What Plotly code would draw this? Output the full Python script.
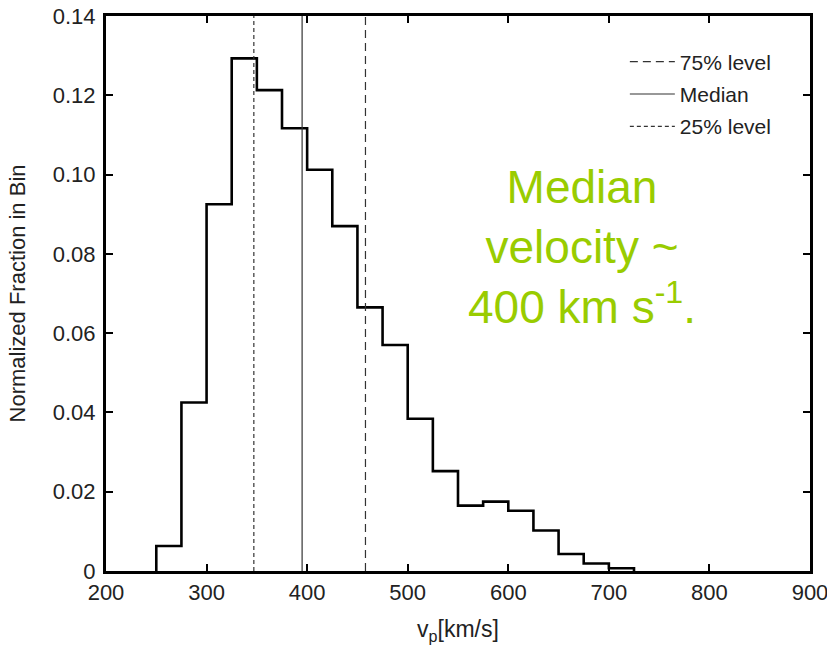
import plotly.graph_objects as go

# Histogram bins (left edges, width 25 km/s) and normalized fractions
bin_left = [250, 275, 300, 325, 350, 375, 400, 425, 450, 475,
            500, 525, 550, 575, 600, 625, 650, 675, 700]
bin_width = 25
fractions = [0.0063, 0.0425, 0.0925, 0.1293, 0.1213, 0.1117, 0.1012, 0.0870, 0.0665, 0.0570,
             0.0384, 0.0252, 0.0165, 0.0175, 0.0152, 0.0102, 0.0043, 0.0019, 0.0007]

# Quartile markers
level_names = ["75% level", "Median", "25% level"]
level_values = [458, 395, 347]
level_dash = ["8px,5px", "solid", "4px,3px"]

x_ticks = [200, 300, 400, 500, 600, 700, 800, 900]
y_ticks = [0, 0.02, 0.04, 0.06, 0.08, 0.10, 0.12, 0.14]
y_tick_text = ["0", "0.02", "0.04", "0.06", "0.08", "0.10", "0.12", "0.14"]

fig = go.Figure()

xs = [bin_left[0]] + bin_left + [bin_left[-1] + bin_width]
ys = [0] + fractions + [0]
fig.add_trace(go.Scatter(x=xs, y=ys, mode="lines", line=dict(shape="hv", color="black", width=2.6),
                         showlegend=False, hoverinfo="skip"))

for i, (name, v, d) in enumerate(zip(level_names, level_values, level_dash)):
    fig.add_trace(go.Scatter(x=[v, v], y=[0, 0.14], mode="lines", name=name, legendgroup=f"g{i}",
                             line=dict(color="#333333", width=1.2, dash=d)))

fig.add_annotation(x=673, y=0.0817, xref="x", yref="y", showarrow=False,
                   text="Median<br>velocity ~<br>400 km s<sup>-1</sup>.",
                   font=dict(family="Arial", size=46, color="#99CC00"),
                   xanchor="center", yanchor="middle", align="center")

axis_common = dict(showline=True, linecolor="black", linewidth=3, mirror="ticks",
                   ticks="inside", ticklen=7, tickwidth=2, tickcolor="black",
                   showgrid=False, zeroline=False, automargin=False,
                   ticklabeloverflow="allow",
                   tickfont=dict(family="Arial", size=22, color="#222222"))

fig.update_xaxes(range=[200, 900], tickvals=x_ticks, ticklabelstandoff=0, **axis_common,
                 title=dict(text="v<sub>p</sub>[km/s]", font=dict(family="Arial", size=23, color="#222222"),
                            standoff=17))
fig.update_yaxes(range=[0, 0.14], tickvals=y_ticks, ticktext=y_tick_text, ticklabelstandoff=3,
                 **axis_common,
                 title=dict(text="Normalized Fraction in Bin", font=dict(family="Arial", size=22, color="#222222"),
                            standoff=22))

fig.update_layout(
    width=827, height=652,
    margin=dict(l=106, r=17, t=16, b=81),
    plot_bgcolor="white", paper_bgcolor="white",
    legend=dict(x=0.737, y=0.954, xanchor="left", yanchor="top", bgcolor="rgba(0,0,0,0)",
                font=dict(family="Arial", size=21, color="#222222"), itemwidth=45,
                tracegroupgap=2, traceorder="grouped"),
    showlegend=True,
)

fig.write_html("out.html", config={"displayModeBar": False},
               post_script="document.body.style.margin='0px';")
